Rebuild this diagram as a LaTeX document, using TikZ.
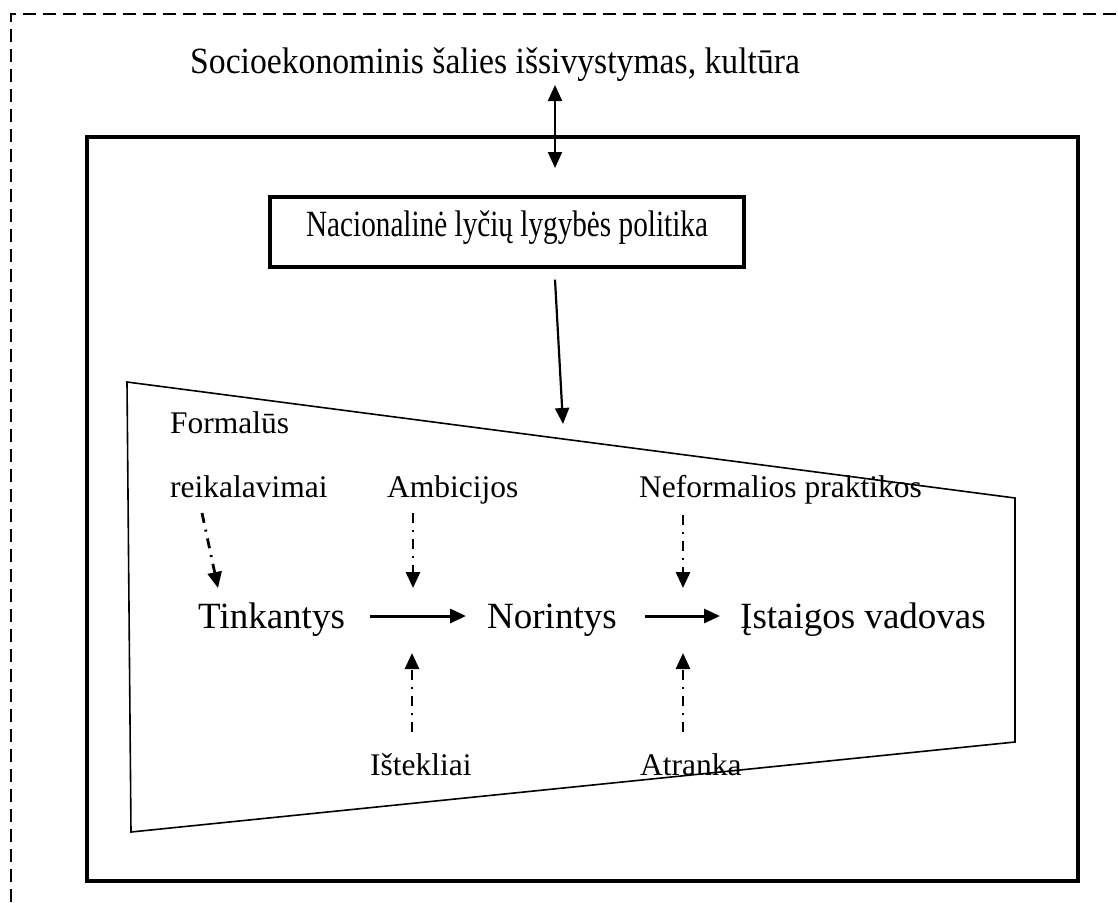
\documentclass[tikz,border=0pt]{standalone}
\usepackage{fontspec}
\setmainfont{Liberation Serif}
\newfontfamily\condtop[FakeStretch=0.91]{Liberation Serif}
\newfontfamily\condpol[FakeStretch=0.79]{Liberation Serif}
\usetikzlibrary{arrows.meta}
\tikzset{
  big/.style={font=\fontsize{37}{44}\selectfont, inner sep=0pt, anchor=base west},
  small/.style={font=\fontsize{31.5}{38}\selectfont, inner sep=0pt, anchor=base west},
  solidarr/.style={line width=3pt, -{Triangle[length=16pt,width=14pt]}},
  thinarr/.style={line width=2.2pt, -{Triangle[length=16pt,width=14pt]}},
  dblarr/.style={line width=2.2pt, {Triangle[length=16pt,width=14pt]}-{Triangle[length=16pt,width=14pt]}},
  dasharr/.style={line width=2.8pt, dash pattern=on 10pt off 7pt on 2pt off 7pt, -{Triangle[length=16pt,width=14pt]}},
}
\begin{document}
\begin{tikzpicture}[x=1pt,y=-1pt]
\useasboundingbox (0,0) rectangle (1118,902);
% dashed border (open to right and bottom)
\draw[line width=2.2pt, dash pattern=on 13pt off 7pt] (11,902) -- (11,14) -- (1118,14);
% outer box
\draw[line width=4pt] (87,137) rectangle (1078,881);
% trapezoid
\draw[line width=1.6pt, line join=miter] (127,382) -- (1015,498) -- (1015,742) -- (131,832) -- cycle;
% top text
\node[big, font=\fontsize{37}{44}\condtop] (soc) at (190,73) {Socioekonominis šalies išsivystymas, kultūra};
% policy box
\node[draw, line width=3.3pt, minimum width=474pt, minimum height=70pt, inner sep=0pt,
      text height=26pt, text depth=18pt, font=\fontsize{37}{44}\condpol] (pol) at (507,232) {Nacionalinė lyčių lygybės politika};
% main chain
\node[big] (tink) at (198,628) {Tinkantys};
\node[big] (nor) at (487,628) {Norintys};
\node[big] (ist) at (740,628) {Įstaigos vadovas};
% small labels
\node[small] (form) at (170,433) {Formalūs};
\node[small] (reik) at (170,497) {reikalavimai};
\node[small] (amb) at (387,497) {Ambicijos};
\node[small] (nef) at (639,497) {Neformalios praktikos};
\node[small] (ist2) at (370,775) {Ištekliai};
\node[small] (atr) at (640,775) {Atranka};
% coordinates
\coordinate (dblend) at (555,168);
\coordinate (trap) at (563,424);
\coordinate (treik) at (218,588);
\coordinate (tamb) at (413,588);
\coordinate (tnef) at (683,588);
\coordinate (tist) at (412,653);
\coordinate (tatr) at (683,653);
% connectors
\draw[dblarr] ([xshift=365pt,yshift=-12pt]soc.base west) -- (dblend);
\draw[thinarr] ([xshift=48pt,yshift=-11pt]pol.south) -- (trap);
\draw[solidarr] ([xshift=25pt,yshift=12pt]tink.base east) -- ([xshift=-21pt,yshift=12pt]nor.base west);
\draw[solidarr] ([xshift=28pt,yshift=12pt]nor.base east) -- ([xshift=-20pt,yshift=12pt]ist.base west);
\draw[dasharr] ([xshift=32pt,yshift=-16pt]reik.base west) -- (treik);
\draw[dasharr] ([xshift=26pt,yshift=-16pt]amb.base west) -- (tamb);
\draw[dasharr] ([xshift=44pt,yshift=-18pt]nef.base west) -- (tnef);
\draw[dasharr] ([xshift=42pt,yshift=43pt]ist2.base west) -- (tist);
\draw[dasharr] ([xshift=43pt,yshift=43pt]atr.base west) -- (tatr);
\end{tikzpicture}
\end{document}
